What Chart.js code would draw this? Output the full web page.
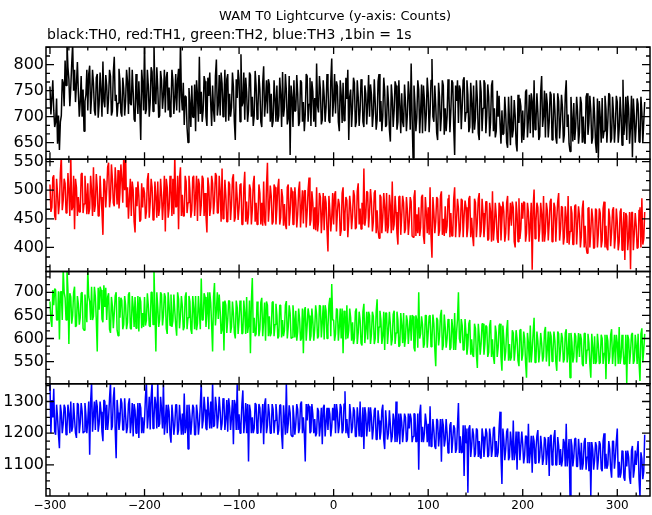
<!DOCTYPE html>
<html>
<head>
<meta charset="utf-8">
<title>WAM T0 Lightcurve</title>
<script src="https://cdn.jsdelivr.net/npm/chart.js@4/dist/chart.umd.min.js"></script>
<style>
  html, body { margin: 0; padding: 0; background: #fff; }
  canvas { display: block; }
</style>
</head>
<body>
<canvas id="lightcurve" width="652" height="515"></canvas>
<script>
// counts per 1 s bin (t = -300 ... 329), one line = 20 s
var binStart = -300, binStep = 1;

var th0 = [
  758,704, 735,770, 712,680, 690,735, 648,702, 636,690, 702,772, 765,720, 808,760, 845,795,
  772,720, 756,802, 840,750, 790,728, 762,805, 748,700, 728,778, 700,752, 672,730, 742,790,
  712,782, 798,705, 738,790, 764,712, 702,775, 782,698, 724,785, 750,700, 806,730, 718,780,
  760,705, 736,790, 778,702, 710,785, 815,730, 742,700, 726,792, 768,708, 700,775, 754,702,
  730,790, 768,705, 795,725, 722,790, 748,695, 690,782, 738,705, 768,718, 655,790, 764,712,
  845,705, 714,790, 760,700, 728,795, 786,710, 845,740, 724,795, 756,698, 702,788, 770,715,
  742,790, 708,775, 786,712, 756,700, 722,790, 770,705, 735,782, 712,770, 792,708, 845,740,
  712,765, 684,740, 738,678, 650,755, 726,680, 760,700, 698,762, 672,770, 742,690, 815,705,
  748,690, 712,778, 768,700, 682,775, 740,785, 726,682, 760,712, 690,778, 810,702, 722,780,
  702,785, 764,700, 730,790, 690,772, 782,692, 744,700, 718,785, 758,690, 655,772, 736,790,
  770,690, 820,720, 726,785, 694,775, 748,690, 712,785, 780,700, 738,682, 702,788, 760,695,
  718,780, 752,690, 680,765, 797,700, 730,770, 706,772, 762,690, 744,680, 692,770, 735,690,
  760,690, 702,775, 742,680, 786,700, 718,782, 750,685, 696,778, 626,760, 738,680, 770,710,
  712,780, 745,682, 690,770, 766,690, 728,672, 704,782, 778,690, 724,775, 682,768, 748,690,
  736,680, 802,720, 708,778, 752,685, 694,770, 740,690, 718,782, 760,692, 688,770, 812,700,
  730,782, 706,768, 758,690, 672,770, 742,688, 765,692, 700,775, 734,790, 655,738, 752,680,
  718,775, 765,680, 690,770, 738,682, 712,772, 760,690, 680,760, 744,685, 726,780, 700,762,
  742,680, 706,772, 726,675, 694,768, 782,690, 730,672, 702,775, 750,680, 684,760, 728,675,
  652,762, 736,680, 712,768, 760,675, 690,770, 722,668, 745,690, 680,762, 728,672, 704,768,
  740,675, 802,700, 620,760, 726,672, 698,770, 752,668, 710,762, 668,760, 732,672, 704,775,
  746,670, 708,770, 811,700, 690,760, 722,668, 655,765, 738,672, 702,770, 760,665, 716,672,
  700,772, 740,670, 712,770, 765,680, 626,760, 730,770, 688,760, 752,676, 720,770, 776,690,
  708,770, 742,670, 680,765, 726,668, 760,675, 698,770, 734,668, 655,770, 748,672, 716,770,
  764,668, 702,762, 738,662, 690,760, 770,672, 716,660, 672,750, 700,740, 686,648, 712,665,
  668,738, 706,650, 640,738, 692,645, 740,660, 675,732, 702,648, 633,742, 688,735, 720,650,
  712,655, 684,748, 752,660, 695,742, 668,745, 730,660, 770,675, 690,745, 708,655, 662,748,
  778,680, 702,750, 660,745, 724,660, 690,748, 742,655, 676,745, 712,660, 648,745, 730,658,
  692,742, 718,650, 665,742, 770,680, 704,648, 633,738, 698,652, 726,655, 680,738, 710,648,
  670,738, 726,650, 700,652, 648,738, 745,665, 688,740, 712,648, 660,738, 702,650, 630,735,
  622,730, 698,650, 736,658, 672,740, 715,650, 690,745, 742,650, 658,738, 706,650, 682,740,
  728,650, 676,738, 702,645, 771,665, 690,738, 655,740, 716,648, 680,740, 622,735, 700,650,
  684,735, 724,652, 650,738, 708,650, 690,728
];

var th1 = [
  510,462, 470,522, 526,455, 448,520, 495,458, 478,530, 560,465, 482,520, 512,460, 465,530,
  498,455, 562,465, 470,525, 432,520, 505,455, 488,462, 462,528, 530,460, 476,525, 494,458,
  512,458, 468,525, 498,455, 540,462, 474,528, 505,455, 455,525, 488,462, 422,520, 515,470,
  500,540, 548,470, 486,545, 520,478, 472,540, 510,475, 535,468, 495,545, 518,478, 560,500,
  562,470, 505,450, 486,520, 455,515, 500,445, 426,505, 472,515, 490,445, 448,512, 470,505,
  495,450, 462,518, 530,452, 478,520, 505,448, 450,515, 488,452, 515,455, 470,520, 492,448,
  480,525, 428,520, 505,452, 468,525, 498,455, 520,458, 562,470, 472,525, 432,520, 540,455,
  492,455, 455,525, 515,460, 478,525, 500,452, 465,522, 525,455, 488,525, 446,520, 510,455,
  474,525, 520,455, 495,455, 426,522, 506,455, 470,525, 512,458, 482,530, 525,460, 460,525,
  498,445, 538,450, 462,518, 490,445, 445,515, 510,448, 475,520, 528,445, 452,515, 487,448,
  470,510, 512,440, 440,505, 532,445, 480,440, 458,510, 502,440, 465,512, 525,445, 478,440,
  455,510, 495,440, 478,438, 515,445, 438,508, 548,445, 470,508, 490,440, 445,510, 505,440,
  468,505, 520,440, 452,502, 488,438, 476,440, 432,505, 510,438, 462,505, 498,440, 440,505,
  482,435, 458,500, 515,435, 470,500, 442,498, 500,435, 462,500, 522,438, 448,498, 478,432,
  470,430, 505,428, 445,495, 488,425, 458,495, 430,490, 478,430, 393,490, 465,428, 452,495,
  440,492, 498,428, 462,485, 475,420, 430,495, 505,430, 458,488, 482,418, 448,490, 470,432,
  455,500, 490,432, 435,498, 512,440, 468,432, 478,440, 538,438, 452,498, 496,435, 462,502,
  480,428, 445,495, 500,425, 465,430, 416,492, 488,425, 452,495, 470,428, 495,425, 438,492,
  472,425, 515,430, 440,490, 462,425, 405,488, 490,422, 455,490, 478,425, 432,488, 465,422,
  445,488, 480,420, 418,488, 500,420, 458,425, 470,420, 435,488, 492,420, 406,488, 462,425,
  470,422, 505,420, 382,488, 462,425, 445,488, 485,420, 430,490, 498,422, 450,420, 472,425,
  438,485, 492,418, 460,420, 420,485, 505,418, 448,485, 468,418, 432,485, 482,418, 455,482,
  470,418, 435,485, 490,418, 452,420, 402,485, 478,418, 445,485, 495,418, 428,485, 460,418,
  442,480, 480,412, 415,478, 462,410, 498,412, 436,478, 455,415, 408,478, 472,412, 448,480,
  462,410, 425,478, 490,412, 448,478, 438,480, 470,410, 400,480, 458,410, 486,415, 432,478,
  450,480, 478,410, 425,478, 462,410, 440,478, 361,470, 501,415, 445,478, 470,410, 432,478,
  458,410, 490,410, 428,478, 465,412, 442,480, 485,410, 415,478, 470,410, 450,480, 495,412,
  432,472, 470,405, 418,472, 452,408, 490,405, 428,472, 460,405, 405,472, 475,405, 440,472,
  455,400, 420,468, 482,400, 438,402, 390,468, 470,400, 428,468, 450,398, 400,468, 465,400,
  425,468, 460,400, 412,468, 480,400, 438,400, 395,468, 452,402, 428,465, 470,398, 418,468,
  445,395, 410,462, 468,395, 430,462, 378,460, 455,395, 420,462, 362,460, 462,395, 425,460,
  438,398, 400,465, 470,400, 486,405, 415,462
];

var th2 = [
  680,640, 625,705, 672,708, 705,640, 640,702, 598,700, 702,640, 750,700, 688,640, 752,705,
  588,698, 690,632, 650,700, 712,625, 628,692, 675,630, 645,698, 700,622, 618,695, 665,635,
  750,690, 680,640, 712,640, 648,712, 690,640, 572,710, 662,712, 705,642, 635,715, 668,710,
  640,690, 698,620, 612,690, 670,622, 655,692, 700,618, 606,690, 645,688, 682,620, 630,692,
  672,620, 635,695, 700,622, 620,692, 668,625, 690,622, 645,692, 615,690, 680,622, 655,625,
  690,628, 640,698, 672,628, 625,700, 700,630, 750,660, 572,700, 668,625, 642,700, 695,628,
  650,698, 690,622, 610,700, 672,628, 695,625, 638,695, 660,628, 606,700, 685,622, 648,692,
  670,618, 625,690, 700,620, 645,692, 680,620, 610,692, 665,620, 692,618, 632,692, 658,620,
  730,640, 640,698, 690,625, 655,700, 620,700, 678,628, 572,690, 720,628, 660,700, 642,695,
  660,610, 618,680, 574,682, 672,612, 640,682, 681,612, 625,680, 655,612, 600,682, 668,610,
  640,682, 670,610, 612,682, 655,610, 690,612, 628,682, 568,680, 731,612, 645,605, 610,680,
  662,605, 620,678, 688,605, 638,678, 595,680, 672,605, 648,605, 612,678, 680,605, 630,675,
  650,600, 605,672, 672,602, 640,605, 618,672, 681,600, 625,672, 655,600, 602,672, 645,602,
  660,595, 615,665, 642,595, 600,665, 568,660, 668,595, 628,665, 650,595, 605,665, 638,595,
  620,672, 652,600, 605,672, 670,602, 635,672, 598,672, 660,600, 625,672, 688,605, 718,640,
  640,595, 610,665, 662,595, 625,665, 600,665, 568,660, 650,598, 672,600, 618,665, 645,595,
  635,588, 600,658, 665,588, 612,658, 640,590, 585,658, 675,590, 620,658, 598,658, 650,588,
  610,658, 648,588, 600,658, 685,590, 625,660, 640,588, 605,658, 575,655, 655,588, 618,658,
  632,585, 598,652, 660,588, 612,658, 640,582, 585,655, 628,590, 655,582, 600,650, 638,588,
  620,650, 595,650, 648,580, 572,650, 640,580, 700,600, 610,648, 630,580, 588,650, 650,580,
  612,648, 650,582, 598,652, 632,578, 540,645, 640,585, 605,650, 662,575, 585,652, 625,580,
  600,642, 638,575, 580,642, 620,575, 655,575, 612,642, 700,600, 590,642, 628,575, 575,642,
  610,565, 585,632, 640,565, 598,565, 560,632, 622,565, 536,632, 605,565, 590,632, 632,565,
  588,628, 625,560, 570,628, 640,560, 598,560, 545,628, 612,560, 580,628, 632,560, 530,628,
  600,552, 572,618, 640,552, 588,552, 560,618, 612,552, 578,618, 598,552, 540,618, 620,552,
  565,615, 600,548, 515,612, 590,548, 628,548, 575,612, 645,548, 555,615, 595,548, 570,612,
  590,550, 560,615, 625,550, 578,615, 540,615, 605,550, 572,615, 595,550, 530,615, 610,550,
  575,612, 600,548, 555,612, 620,548, 570,612, 515,612, 592,548, 560,612, 605,548, 582,612,
  560,610, 598,545, 540,610, 612,545, 575,610, 590,545, 515,610, 580,545, 605,545, 550,610,
  585,545, 548,608, 600,545, 568,608, 512,608, 595,545, 560,608, 620,545, 575,608, 540,608,
  590,545, 625,545, 560,608, 580,545, 545,608, 502,608, 598,545, 570,608, 612,545, 552,608,
  585,545, 610,548, 508,610, 622,548, 575,610
];

var th3 = [
  1360,1200, 1305,1250, 1340,1205, 1195,1290, 1250,1195, 1153,1290, 1265,1200, 1230,1290, 1280,1195, 1215,1290,
  1262,1200, 1300,1205, 1220,1295, 1245,1200, 1185,1295, 1290,1200, 1232,1295, 1270,1200, 1205,1295, 1258,1200,
  1240,1300, 1132,1300, 1360,1205, 1255,1300, 1210,1305, 1285,1205, 1230,1300, 1268,1205, 1175,1305, 1300,1210,
  1290,1210, 1248,1310, 1360,1210, 1222,1310, 1345,1210, 1121,1305, 1265,1210, 1240,1310, 1295,1210, 1210,1310,
  1255,1200, 1220,1292, 1310,1200, 1235,1295, 1190,1292, 1272,1200, 1245,1295, 1185,1295, 1280,1200, 1250,1200,
  1240,1315, 1360,1215, 1255,1315, 1212,1315, 1360,1215, 1245,1315, 1290,1215, 1360,1220, 1230,1315, 1275,1215,
  1360,1195, 1235,1290, 1200,1290, 1268,1195, 1170,1290, 1250,1195, 1225,1290, 1290,1195, 1210,1290, 1245,1195,
  1262,1195, 1325,1200, 1220,1290, 1150,1290, 1255,1195, 1238,1290, 1280,1195, 1195,1290, 1260,1195, 1230,1290,
  1360,1215, 1240,1315, 1275,1215, 1210,1315, 1260,1215, 1300,1215, 1362,1220, 1225,1315, 1285,1215, 1250,1315,
  1270,1210, 1230,1310, 1300,1210, 1245,1305, 1205,1310, 1280,1210, 1250,1305, 1165,1305, 1290,1210, 1355,1210,
  1260,1200, 1225,1292, 1335,1200, 1240,1295, 1200,1292, 1111,1290, 1270,1200, 1250,1200, 1215,1295, 1290,1200,
  1230,1292, 1280,1200, 1245,1292, 1165,1292, 1310,1200, 1225,1292, 1262,1200, 1200,1292, 1275,1200, 1240,1292,
  1255,1195, 1210,1288, 1290,1195, 1150,1288, 1245,1195, 1360,1200, 1230,1288, 1265,1195, 1190,1288, 1250,1195,
  1230,1292, 1275,1200, 1215,1292, 1300,1200, 1250,1200, 1111,1292, 1240,1292, 1285,1200, 1205,1292, 1260,1200,
  1245,1190, 1200,1280, 1270,1190, 1225,1280, 1165,1280, 1290,1190, 1235,1280, 1210,1280, 1260,1190, 1220,1280,
  1240,1292, 1200,1292, 1265,1200, 1225,1292, 1282,1200, 1210,1292, 1332,1200, 1245,1200, 1185,1292, 1260,1200,
  1220,1282, 1270,1190, 1190,1282, 1245,1190, 1300,1190, 1215,1282, 1150,1282, 1260,1190, 1230,1282, 1205,1282,
  1250,1180, 1215,1272, 1280,1180, 1180,1272, 1240,1180, 1205,1272, 1290,1180, 1150,1272, 1230,1180, 1200,1272,
  1225,1172, 1190,1262, 1240,1172, 1300,1172, 1200,1262, 1165,1262, 1235,1172, 1210,1262, 1250,1172, 1180,1262,
  1215,1262, 1245,1172, 1190,1262, 1260,1172, 1175,1262, 1085,1262, 1290,1172, 1220,1172, 1200,1262, 1235,1172,
  1230,1158, 1285,1158, 1175,1245, 1210,1158, 1150,1245, 1240,1158, 1195,1245, 1110,1245, 1225,1158, 1180,1245,
  1200,1138, 1160,1225, 1235,1138, 1180,1225, 1215,1138, 1150,1225, 1295,1138, 1190,1138, 1140,1225, 1065,1225,
  1170,1215, 1012,1215, 1225,1125, 1160,1215, 1195,1125, 1135,1215, 1210,1125, 1175,1125, 1120,1215, 1190,1125,
  1165,1215, 1200,1125, 1130,1215, 1185,1125, 1150,1215, 1220,1125, 1175,1125, 1140,1215, 1268,1125, 1040,1215,
  1180,1115, 1150,1205, 1215,1115, 1125,1205, 1170,1115, 1240,1115, 1140,1205, 1085,1205, 1195,1115, 1160,1205,
  1165,1105, 1130,1192, 1190,1105, 1230,1105, 1140,1192, 1075,1192, 1175,1105, 1150,1192, 1210,1105, 1125,1192,
  1155,1100, 1120,1188, 1180,1100, 1140,1188, 1065,1188, 1195,1100, 1135,1188, 1210,1100, 1100,1188, 1160,1100,
  1150,1095, 1115,1182, 1170,1095, 1230,1095, 1135,1182, 1002,1182, 1160,1095, 1125,1182, 1185,1095, 1095,1182,
  1140,1085, 1170,1085, 1105,1172, 1185,1085, 1125,1172, 1080,1172, 1002,1172, 1150,1085, 1115,1172, 1160,1085,
  1120,1175, 1165,1088, 1080,1175, 1200,1088, 1135,1088, 1100,1175, 1150,1088, 1060,1175, 1175,1088, 1125,1175,
  1215,1060, 1110,1060, 1075,1145, 1140,1060, 1050,1145, 1095,1145, 1125,1060, 1040,1145, 1160,1060, 1085,1145,
  1100,1140, 1175,1055, 1000,1140, 1120,1055, 1080,1195
];

var timeBins = th0.map(function (v, i) { return binStart + i * binStep; });

var titleText = 'WAM T0 Lightcurve (y-axis: Counts)';
var subtitleText = 'black:TH0, red:TH1, green:TH2, blue:TH3 ,1bin = 1s';

// axis setup per panel (top to bottom)
var panelIds = ['y0', 'y1', 'y2', 'y3'];
var panelColors = ['#000000', '#ff0000', '#00ff00', '#0000ff'];
var yMins = [618, 358, 502, 1002];
var yMaxs = [834, 554, 745, 1356];
var yLabelSteps = [50, 50, 50, 100];
var yMinorSteps = [50 / 3, 50 / 3, 50 / 3, 25];
var xMin = -304.2, xMax = 334.6, xLabelStep = 100, xMinorStep = 20;

var fontName = '"DejaVu Sans", sans-serif';

function toPoints( series )
{
    return series.map(function (v, i) { return { x: timeBins[i], y: v }; });
}

function minusLabel( value )
{
    return value < 0 ? '\u2212' + Math.abs(value) : String(value);
}

var panelFrame = {
    id: 'panelFrame',
    afterDatasetsDraw: function (chart) {
        var ctx = chart.ctx, xs = chart.scales.x;
        ctx.save();
        ctx.strokeStyle = '#000';
        panelIds.forEach(function (id, p) {
            var ys = chart.scales[id];
            ctx.lineWidth = 1.5;
            ctx.strokeRect(xs.left, ys.top, xs.right - xs.left, ys.bottom - ys.top);

            ctx.lineWidth = 1.3;
            ctx.beginPath();
            for (var t = -300; t <= xs.max; t += xMinorStep) {
                var px = xs.getPixelForValue(t);
                var len = (t % xLabelStep === 0) ? 7 : 3.5;
                ctx.moveTo(px, ys.top);    ctx.lineTo(px, ys.top + len);
                ctx.moveTo(px, ys.bottom); ctx.lineTo(px, ys.bottom - len);
            }
            var step = yMinorSteps[p];
            for (var k = Math.ceil(ys.min / step - 1e-6); k * step <= ys.max; k++) {
                var v = k * step;
                var py = ys.getPixelForValue(v);
                var r = v / yLabelSteps[p];
                var l = Math.abs(r - Math.round(r)) < 1e-6 ? 8 : 4;
                ctx.moveTo(xs.left, py);  ctx.lineTo(xs.left + l, py);
                ctx.moveTo(xs.right, py); ctx.lineTo(xs.right - l, py);
            }
            ctx.stroke();
        });
        ctx.restore();
    },
    afterDraw: function (chart) {
        var ctx = chart.ctx;
        ctx.save();
        ctx.fillStyle = '#000';
        ctx.textBaseline = 'middle';
        ctx.font = '13px ' + fontName;
        ctx.textAlign = 'center';
        ctx.fillText(titleText, 335, 17);
        ctx.font = '14px ' + fontName;
        ctx.textAlign = 'left';
        ctx.fillText(subtitleText, chart.chartArea.left + 1, 35);
        ctx.restore();
    }
};

var scales = {
    x: {
        type: 'linear',
        position: 'bottom',
        min: xMin,
        max: xMax,
        grid: { display: false, drawTicks: false },
        border: { display: false },
        ticks: {
            stepSize: xLabelStep,
            includeBounds: false,
            maxRotation: 0,
            autoSkip: false,
            padding: 3,
            color: '#000',
            font: { family: fontName, size: 12 },
            callback: minusLabel
        },
        afterFit: function (s) { s.height = 19; }
    }
};

panelIds.forEach(function (id, p) {
    scales[id] = {
        type: 'linear',
        position: 'left',
        stack: 'wam',
        stackWeight: 1,
        weight: 4 - p,
        min: yMins[p],
        max: yMaxs[p],
        grid: { display: false, drawTicks: false },
        border: { display: false },
        ticks: {
            stepSize: yLabelSteps[p],
            includeBounds: false,
            autoSkip: false,
            padding: 2,
            color: '#000',
            font: { family: fontName, size: 16 },
            callback: minusLabel
        },
        afterFit: function (s) { s.width = 46; }
    };
});

var seriesList = [th0, th1, th2, th3];

new Chart(document.getElementById('lightcurve').getContext('2d'), {
    type: 'line',
    data: {
        datasets: seriesList.map(function (series, p) {
            return {
                label: 'TH' + p,
                data: toPoints(series),
                yAxisID: panelIds[p],
                borderColor: panelColors[p],
                borderWidth: 1.5,
                borderJoinStyle: 'bevel',
                pointRadius: 0,
                fill: false,
                tension: 0
            };
        })
    },
    options: {
        responsive: false,
        devicePixelRatio: 1,
        animation: false,
        layout: { padding: { top: 47, right: 2, bottom: 0, left: 0 } },
        plugins: {
            legend: { display: false },
            tooltip: { enabled: false },
            title: { display: false }
        },
        scales: scales
    },
    plugins: [panelFrame]
});
</script>
</body>
</html>
